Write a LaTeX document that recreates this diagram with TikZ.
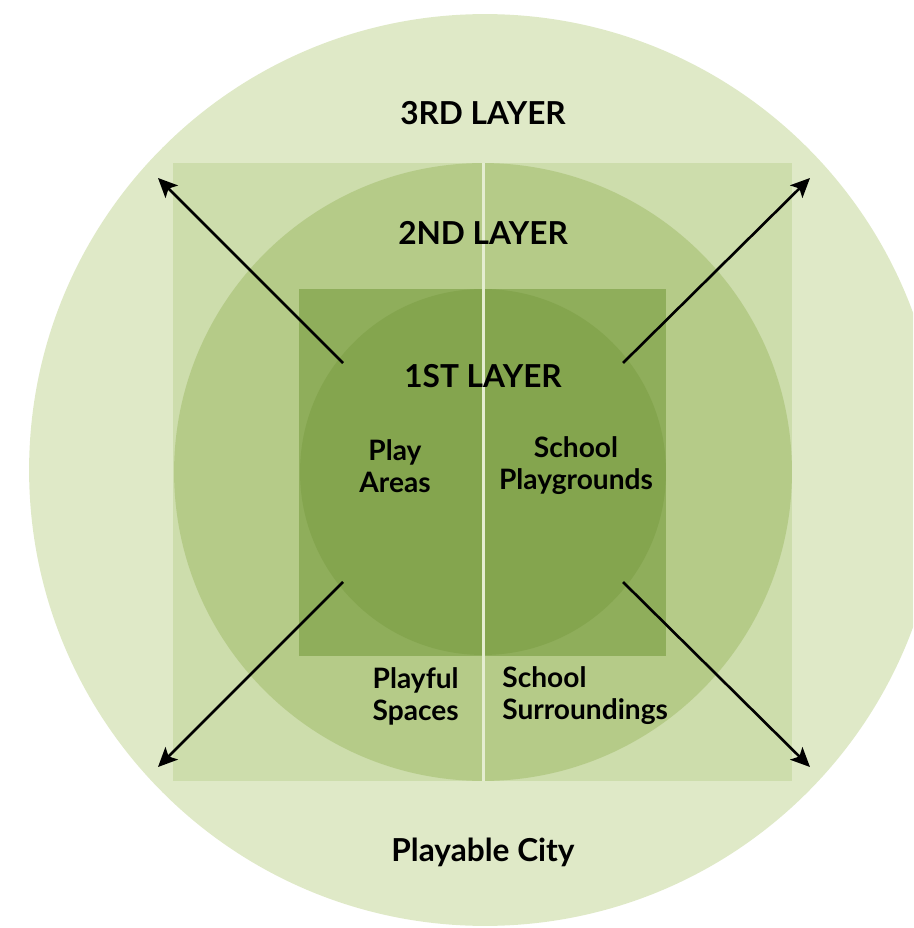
\documentclass[tikz,border=0pt]{standalone}
\usepackage{fontspec}
\setmainfont{Lato}
\usetikzlibrary{arrows.meta}
\definecolor{cityfill}{HTML}{DFE9C7}
\definecolor{outersq}{HTML}{CDDDAC}
\definecolor{secondfill}{HTML}{B5CB88}
\definecolor{innersq}{HTML}{8FAE5B}
\definecolor{firstfill}{HTML}{84A54E}
\definecolor{splitline}{HTML}{E4EDD0}

\begin{document}
\begin{tikzpicture}[x=0.02cm, y=-0.02cm,
  every node/.style={font=\bfseries\fontsize{16}{18.3}\selectfont, inner sep=0pt},
  layerlabel/.style={align=center},
  layertitle/.style={font=\bfseries\fontsize{18}{20}\selectfont},
  spread/.style={-{Stealth[length=11pt, width=10pt, inset=2.5pt]}, line width=1.5pt}]
\useasboundingbox (0,0) rectangle (913,928);
\clip (0,0) rectangle (913,928);
% layers
\fill[cityfill] (485,470) circle (9.12cm);
\fill[outersq] (173,163) rectangle (792,781);
\fill[secondfill] (483,472) circle (6.18cm);
\fill[innersq] (299,289) rectangle (666,656);
\fill[firstfill] (483,472) circle (3.66cm);
\draw[splitline, line width=1.7pt] (483,163) -- (483,781);
% labels
\node[layertitle] (third) at (483,113) {3RD LAYER};
\node[layertitle] (second) at (483,233) {2ND LAYER};
\node[layertitle] (first) at (483,376) {1ST LAYER};
\node[layerlabel] (play) at (395,466) {Play\\Areas};
\node[layerlabel] (school) at (576,466) {School\\Playgrounds};
\node[align=right, anchor=east] (playful) at (459,696) {Playful\\Spaces};
\node[align=left, anchor=west] (surround) at (502,696) {School\\Surroundings};
\node[layertitle] (city) at (483,852) {Playable City};
% arrows
\coordinate (nwfrom) at (343,363);
\coordinate (nwto) at (158,178);
\coordinate (nefrom) at (623,363);
\coordinate (neto) at (810,178);
\coordinate (swfrom) at (343,582);
\coordinate (swto) at (158,767);
\coordinate (sefrom) at (623,582);
\coordinate (seto) at (810,767);
\draw[spread] (nwfrom) -- (nwto);
\draw[spread] (nefrom) -- (neto);
\draw[spread] (swfrom) -- (swto);
\draw[spread] (sefrom) -- (seto);
\end{tikzpicture}
\end{document}
